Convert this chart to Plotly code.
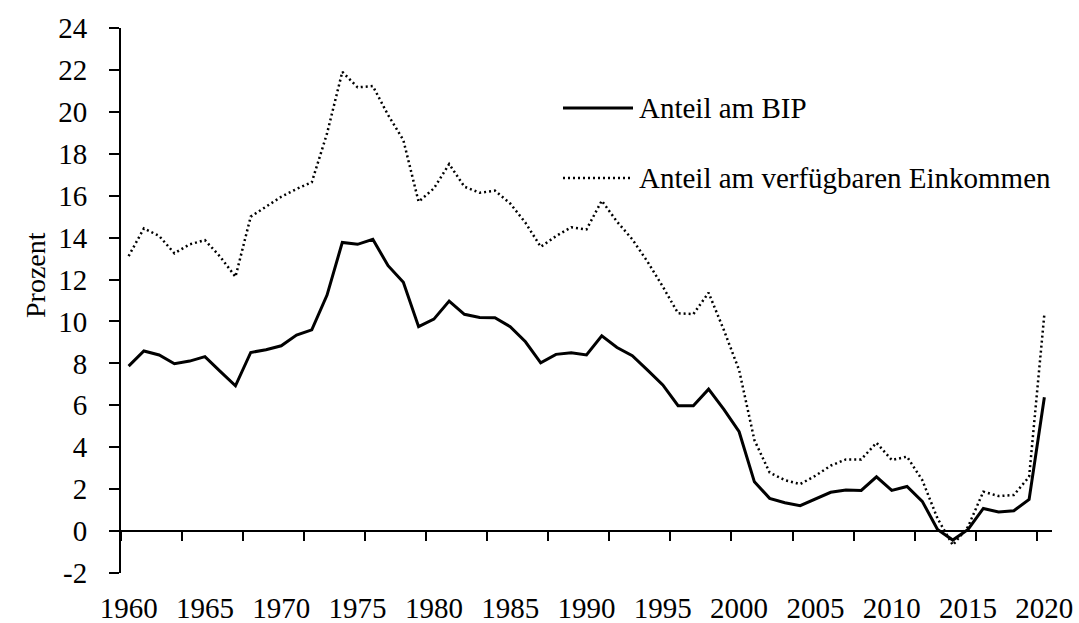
import plotly.graph_objects as go

years = list(range(1960, 2021))
anteil_bip = [7.87, 8.59, 8.40, 7.98, 8.11, 8.32, 7.62, 6.93, 8.52, 8.65,
              8.84, 9.35, 9.60, 11.26, 13.77, 13.68, 13.92, 12.66, 11.87, 9.75,
              10.11, 10.97, 10.34, 10.19, 10.18, 9.75, 9.03, 8.03, 8.43, 8.51,
              8.40, 9.32, 8.76, 8.37, 7.68, 6.97, 5.98, 5.98, 6.77, 5.81,
              4.74, 2.35, 1.56, 1.35, 1.21, 1.53, 1.85, 1.96, 1.94, 2.59,
              1.94, 2.13, 1.42, 0.08, -0.43, 0.08, 1.08, 0.91, 0.97, 1.51, 6.38]
anteil_einkommen = [13.12, 14.44, 14.08, 13.25, 13.68, 13.88, 13.09, 12.13, 15.00, 15.47,
                    15.95, 16.32, 16.64, 18.97, 21.91, 21.17, 21.23, 19.85, 18.65, 15.71,
                    16.35, 17.51, 16.43, 16.14, 16.24, 15.63, 14.71, 13.56, 14.07, 14.49,
                    14.39, 15.76, 14.76, 13.92, 12.85, 11.66, 10.39, 10.35, 11.37, 9.59,
                    7.68, 4.34, 2.79, 2.43, 2.24, 2.64, 3.12, 3.42, 3.42, 4.21,
                    3.39, 3.55, 2.43, 0.60, -0.67, 0.21, 1.88, 1.67, 1.72, 2.59, 10.35]
x_labels = list(range(1960, 2021, 5))
x_ticks = [1959.5 + 4 * k for k in range(16)]
y_ticks = list(range(-2, 25, 2))
series_names = ["Anteil am BIP", "Anteil am verfügbaren Einkommen"]
y_title = "Prozent"

W, H = 1079, 623
L, R, T, B = 121, 27, 28, 50
FONT = "Liberation Serif"
FS = 29


def px(xp):
    return (xp - L) / (W - L - R)


def py(yp):
    return (H - B - yp) / (H - T - B)


yr = [-2, 24]
xr = [1959.5, 2020.5]

fig = go.Figure()
# invisible carrier so that the zero-level axis (x2) is rendered with its ticks
fig.add_trace(go.Scatter(x=years, y=anteil_bip, xaxis="x2", mode="lines",
                         line=dict(color="rgba(0,0,0,0)", width=0), hoverinfo="skip",
                         showlegend=False))
fig.add_trace(go.Scatter(x=years, y=anteil_bip, mode="lines", name=series_names[0],
                         line=dict(color="black", width=3), showlegend=False))
fig.add_trace(go.Scatter(x=years, y=anteil_einkommen, mode="lines", name=series_names[1],
                         line=dict(color="black", width=2.5, dash="2px,3px"), showlegend=False))

fig.update_layout(
    width=W, height=H,
    margin=dict(l=L, r=R, t=T, b=B, autoexpand=False),
    paper_bgcolor="white", plot_bgcolor="white",
    font=dict(family=FONT, size=FS, color="black"),
    xaxis=dict(range=xr, tickvals=x_labels, ticktext=[str(v) for v in x_labels],
               ticks="", showline=False, showgrid=False, zeroline=False, automargin=False,
               ticklabelstandoff=15,
               tickfont=dict(family=FONT, size=FS, color="black")),
    xaxis2=dict(range=xr, overlaying="x", anchor="free",
                position=(0 - yr[0]) / (yr[1] - yr[0]),
                tickmode="array", tickvals=x_ticks, ticks="outside", ticklen=9,
                tickwidth=2, tickcolor="black",
                showticklabels=False, showline=True, linecolor="black", linewidth=2,
                showgrid=False, zeroline=False, automargin=False),
    yaxis=dict(range=yr, tickvals=y_ticks, ticktext=[str(v) for v in y_ticks],
               ticks="outside", ticklen=10, tickwidth=2,
               tickcolor="black", showline=True, linecolor="black", linewidth=2,
               showgrid=False, zeroline=False, automargin=False, ticklabelstandoff=16,
               tickfont=dict(family=FONT, size=FS, color="black")),
)

# legend drawn manually
legend_rows = [(108, dict(color="black", width=3)),
               (178, dict(color="black", width=2.5, dash="2px,3px"))]
for (ypix, ln), name in zip(legend_rows, series_names):
    fig.add_shape(type="line", xref="paper", yref="paper",
                  x0=px(563), x1=px(633), y0=py(ypix), y1=py(ypix), line=ln)
    fig.add_annotation(xref="paper", yref="paper", x=px(637), y=py(ypix),
                       xanchor="left", yanchor="middle", text=name, showarrow=False,
                       font=dict(family=FONT, size=29, color="black"))

fig.add_annotation(xref="paper", yref="paper", x=px(35), y=py(275),
                   xanchor="center", yanchor="middle", text=y_title, textangle=-90,
                   showarrow=False, font=dict(family=FONT, size=28, color="black"))

fig.write_html("out.html", config={"displayModeBar": False},
               post_script="document.body.style.margin='0';document.body.style.padding='0';")
